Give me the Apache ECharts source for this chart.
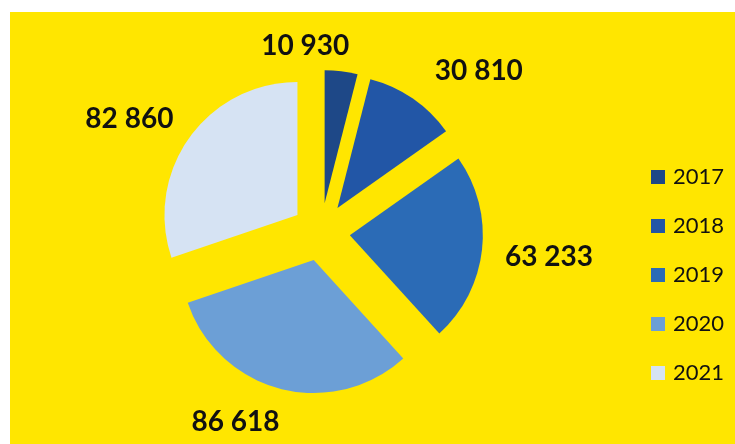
<!DOCTYPE html>
<html><head><meta charset="utf-8">
<script src="https://cdn.jsdelivr.net/npm/echarts@6/dist/echarts.min.js"></script>
<style>html,body{margin:0;padding:0;background:#fff;} #c{width:735px;height:444px;}</style>
</head><body><div id="c"></div>
<script>
const years = ['2017', '2018', '2019', '2020', '2021'];
const values = [10930, 30810, 63233, 86618, 82860];
const colors = ['#1e4887', '#2256a6', '#2b6bb6', '#6c9fd6', '#d6e3f3'];

// label nudges relative to the default outside anchor
const labelShift = [[-41, -25], [61, -28], [62, 7], [-40, 33], [-55, -19]];

const fmt = v => String(v).replace(/\B(?=(\d{3})+(?!\d))/g, ' ');

const chart = echarts.init(document.getElementById('c'), null, { renderer: 'canvas' });
chart.setOption({
  animation: false,
  backgroundColor: '#ffffff',
  color: colors,
  graphic: [{
    type: 'rect', left: 10, top: 12, silent: true, z: -10,
    shape: { width: 725, height: 432 },
    style: { fill: '#ffe600' }
  }],
  legend: {
    orient: 'vertical',
    left: 651, top: 166,
    padding: 0,
    itemWidth: 14, itemHeight: 14, itemGap: 27,
    icon: 'rect',
    selectedMode: false,
    data: years,
    textStyle: { fontFamily: 'Lato', fontSize: 22, color: '#111', padding: [0, 0, 0, 3] }
  },
  series: [{
    type: 'pie',
    center: [321, 232],
    radius: 133,
    startAngle: 90,
    clockwise: true,
    selectedMode: 'multiple',
    selectedOffset: 29,
    avoidLabelOverlap: false,
    emphasis: { disabled: true },
    data: years.map((y, i) => ({ name: y, value: values[i], selected: true })),
    label: {
      show: true,
      position: 'outside',
      formatter: p => fmt(p.value),
      fontFamily: 'Lato',
      fontWeight: 'bold',
      fontSize: 28,
      color: '#111'
    },
    labelLine: { show: false, length: 0, length2: 0 },
    labelLayout: p => {
      const s = labelShift[p.dataIndex];
      return { align: 'center', verticalAlign: 'middle', dx: s[0], dy: s[1] };
    }
  }]
});
</script>
</body></html>
